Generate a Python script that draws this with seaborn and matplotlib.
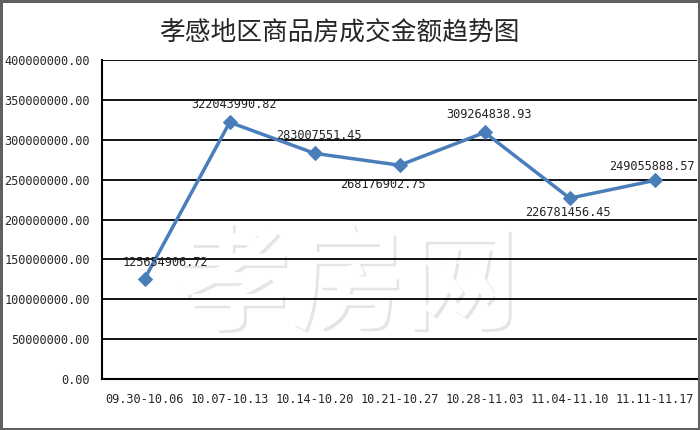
import pandas as pd
import matplotlib.pyplot as plt
import matplotlib.patheffects as pe
import seaborn as sns

# 数据
periods = ['09.30-10.06', '10.07-10.13', '10.14-10.20', '10.21-10.27',
           '10.28-11.03', '11.04-11.10', '11.11-11.17']
amounts = [125654906.72, 322043990.82, 283007551.45, 268176902.75,
           309264838.93, 226781456.45, 249055888.57]
label_pos = ['right', 'above', 'above', 'below_left', 'above', 'below', 'above_left']
yticks = [0, 50000000, 100000000, 150000000, 200000000,
          250000000, 300000000, 350000000, 400000000]

df = pd.DataFrame({'周期': periods, '金额': amounts, 'idx': range(len(periods))})

sns.set_style('white')
plt.rcParams['font.family'] = ['Noto Sans CJK SC', 'DejaVu Sans']
num_font = ['DejaVu Sans Mono']
fs = 8.6

fig = plt.figure(figsize=(7, 4.3), dpi=100, edgecolor='#606060', linewidth=2.5)

# 水印（放在图表后面）
fig.text(0.495, 0.335, '孝房网', ha='center', va='center', fontsize=82,
         color='white', fontweight='heavy', zorder=-1,
         path_effects=[pe.withSimplePatchShadow(offset=(2, -2), shadow_rgbFace='#d4d4d4', alpha=0.6),
                       pe.Normal()])

ax = fig.add_axes([0.146, 0.119, 0.850, 0.741])
ax.patch.set_alpha(0)

# 网格线
for v in yticks:
    ax.axhline(v, color='black', lw=1.3, zorder=1)

sns.lineplot(data=df, x='idx', y='金额', ax=ax, color='#4A7EBB', lw=2.5,
             marker='D', markersize=7, markeredgecolor='#4A7EBB', zorder=3)

# 数据标签
offsets = {'right': (15, 12), 'above': (3, 13), 'above_left': (-2, 10),
           'below': (-1, -10), 'below_left': (-12, -14)}
for i, (v, p) in enumerate(zip(amounts, label_pos)):
    dx, dy = offsets[p]
    ax.annotate(f'{v:.2f}', (i, v), xytext=(dx, dy), textcoords='offset points',
                ha='center', va='center', fontsize=fs, family=num_font,
                color='#222222', zorder=4)

ax.set_xlim(-0.5, len(periods) - 0.5)
ax.set_ylim(0, 400000000)
ax.set_yticks(yticks)
ax.set_yticklabels([f'{v:.2f}' for v in yticks], family=num_font, fontsize=fs)
ax.set_xticks(range(len(periods)))
ax.set_xticklabels(periods, family=num_font, fontsize=fs)
ax.set_xticks([i - 0.5 for i in range(len(periods) + 1)], minor=True)
ax.tick_params(axis='x', which='major', length=0, pad=10)
ax.tick_params(axis='x', which='minor', length=6, width=1.3, color='black', direction='out')
ax.tick_params(axis='y', length=6, width=1.3, color='black', direction='out', pad=3)
ax.set_xlabel('')
ax.set_ylabel('')

for s in ['top', 'right']:
    ax.spines[s].set_visible(False)
for s in ['left', 'bottom']:
    ax.spines[s].set_color('black')
    ax.spines[s].set_linewidth(1.5)

fig.suptitle('孝感地区商品房成交金额趋势图', x=0.485, y=0.955, fontsize=18.5)

fig.savefig('out.png', dpi=100)
